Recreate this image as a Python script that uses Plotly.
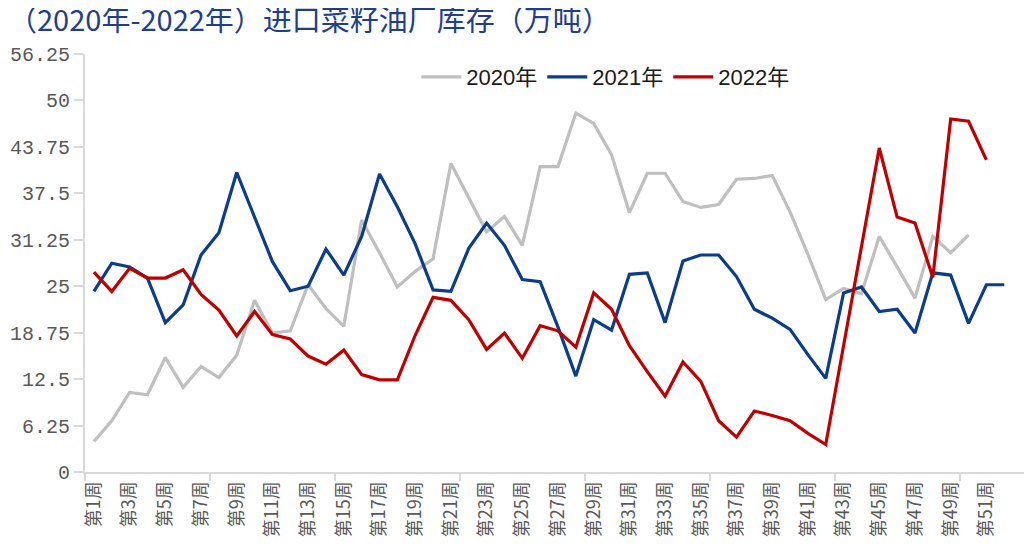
import plotly.graph_objects as go

weeks = list(range(1, 54))
week_labels = [f"第{w}周" for w in weeks]

y2020 = [4.1, 6.9, 10.7, 10.4, 15.4, 11.4, 14.2, 12.7, 15.7, 23.1,
         18.7, 19.0, 25.2, 22.0, 19.6, 33.9, 29.5, 24.9, 27.0, 28.7,
         41.5, 37.0, 32.3, 34.4, 30.5, 41.1, 41.1, 48.3, 46.9, 42.7,
         34.9, 40.2, 40.2, 36.4, 35.6, 36.0, 39.4, 39.5, 39.9, 35.0,
         29.3, 23.2, 24.7, 24.0, 31.7, 27.6, 23.4, 31.7, 29.5, 31.9,
         None, None, None]

y2021 = [24.3, 28.1, 27.6, 26.1, 20.1, 22.5, 29.2, 32.2, 40.3, 34.3,
         28.3, 24.4, 25.0, 30.0, 26.5, 31.7, 40.1, 35.7, 30.7, 24.5,
         24.3, 30.1, 33.5, 30.5, 25.9, 25.6, 19.5, 12.9, 20.5, 19.1,
         26.6, 26.8, 20.1, 28.4, 29.2, 29.2, 26.3, 21.9, 20.7, 19.2,
         15.8, 12.6, 24.1, 24.9, 21.6, 21.9, 18.7, 26.8, 26.5, 20.0,
         25.2, 25.2, None]

y2022 = [26.9, 24.3, 27.4, 26.1, 26.1, 27.2, 23.9, 21.8, 18.3, 21.6,
         18.5, 17.9, 15.6, 14.5, 16.4, 13.1, 12.4, 12.4, 18.4, 23.5,
         23.1, 20.5, 16.5, 18.7, 15.3, 19.7, 19.0, 16.8, 24.1, 21.9,
         17.0, 13.5, 10.2, 14.8, 12.2, 6.9, 4.7, 8.2, 7.6, 6.9,
         5.2, 3.7, None, None, 43.6, 34.3, 33.5, 26.2, 47.5, 47.2,
         42.0, None, None]

series_names = ["2020年", "2021年", "2022年"]
series_colors = ["#BFBFBF", "#0B3D8C", "#C00000"]

y_ticks = [0, 6.25, 12.5, 18.75, 25, 31.25, 37.5, 43.75, 50, 56.25]
y_ticktext = ["0", "6.25", "12.5", "18.75", "25", "31.25", "37.5", "43.75", "50", "56.25"]
x_tickmarks = [0.5, 7.5, 14.5, 21.5, 28.5, 35.5, 42.5, 49.5]

fig = go.Figure()
for name, ys, col in zip(series_names, [y2020, y2021, y2022], series_colors):
    fig.add_trace(go.Scatter(
        x=weeks, y=ys, name=name, mode="lines",
        line=dict(color=col, width=3.2),
        connectgaps=True,
    ))

# invisible helper trace for the tick-mark axis
fig.add_trace(go.Scatter(x=[weeks[0]], y=[None], xaxis="x2", showlegend=False,
                         hoverinfo="skip"))

axis_gray = "#D9D9D9"
label_gray = "#595959"

# page body has an 8px margin, so the figure is sized/offset to compensate
fig.update_layout(
    width=1024, height=551,
    margin=dict(l=77, r=1, t=46, b=87, autoexpand=False),
    paper_bgcolor="white", plot_bgcolor="white",
    title=dict(
        text="（2020年-2022年）进口菜籽油厂库存（万吨）",
        x=0.0, xanchor="left", xref="container",
        y=1 - 13 / 551, yanchor="middle", yref="container",
        font=dict(family="Noto Sans CJK SC", size=29, color="#1F3F8C"),
    ),
    legend=dict(
        orientation="h", x=0.55, xanchor="center", y=0.945, yanchor="middle",
        font=dict(family="Liberation Sans, Noto Sans CJK SC", size=22, color="#1A1A1A"),
        bgcolor="rgba(0,0,0,0)", itemwidth=40, tracegroupgap=0,
    ),
    xaxis=dict(
        range=[0.5, 53.5],
        tickmode="array", tickvals=weeks[::2], ticktext=week_labels[::2],
        tickangle=-90, ticks="", showgrid=False, zeroline=False,
        showline=True, linecolor=axis_gray, linewidth=2,
        tickfont=dict(family="Noto Sans CJK SC", size=18, color=label_gray),
        automargin=False,
    ),
    xaxis2=dict(
        overlaying="x", side="bottom", range=[0.5, 53.5],
        tickmode="array", tickvals=x_tickmarks, ticktext=["" for _ in x_tickmarks],
        ticks="outside", ticklen=8, tickwidth=2, tickcolor=axis_gray,
        showgrid=False, zeroline=False, showline=False, showticklabels=False,
        anchor="y",
    ),
    yaxis=dict(
        range=[0, 56.25],
        tickmode="array", tickvals=y_ticks, ticktext=y_ticktext,
        ticks="outside", ticklen=9, tickwidth=2, tickcolor=axis_gray,
        showgrid=False, zeroline=False,
        showline=True, linecolor=axis_gray, linewidth=2,
        tickfont=dict(family="Liberation Mono", size=20, color=label_gray),
        automargin=False,
    ),
)

fig.write_html("out.html")
